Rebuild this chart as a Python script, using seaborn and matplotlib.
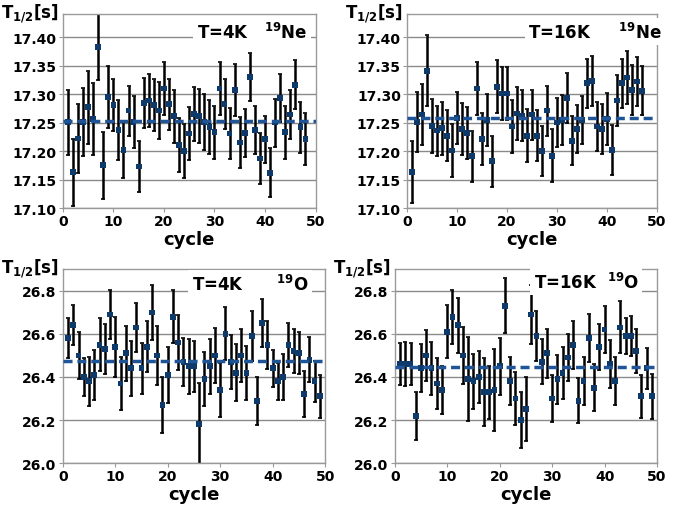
import numpy as np
import matplotlib
matplotlib.use("Agg")
import matplotlib.pyplot as plt
import seaborn as sns

# values
ne4k_val = [17.251, 17.163, 17.222, 17.251, 17.277, 17.256, 17.383, 17.175, 17.295, 17.281,
            17.237, 17.202, 17.271, 17.251, 17.173, 17.285, 17.289, 17.281, 17.271, 17.310,
            17.282, 17.261, 17.211, 17.200, 17.231, 17.265, 17.262, 17.251, 17.242, 17.233,
            17.310, 17.283, 17.231, 17.307, 17.215, 17.232, 17.330, 17.237, 17.187, 17.221,
            17.162, 17.250, 17.293, 17.233, 17.264, 17.316, 17.242, 17.221]
ne4k_err = [0.057, 0.059, 0.060, 0.060, 0.064, 0.063, 0.059, 0.059, 0.054, 0.045,
            0.052, 0.049, 0.044, 0.045, 0.044, 0.044, 0.047, 0.046, 0.050, 0.046,
            0.045, 0.046, 0.047, 0.047, 0.047, 0.047, 0.047, 0.049, 0.047, 0.047,
            0.046, 0.044, 0.045, 0.045, 0.044, 0.042, 0.042, 0.042, 0.044, 0.041,
            0.043, 0.042, 0.042, 0.046, 0.043, 0.043, 0.045, 0.046]
ne16k_val = [17.163, 17.251, 17.264, 17.341, 17.244, 17.236, 17.240, 17.227, 17.201, 17.258,
             17.239, 17.232, 17.191, 17.310, 17.221, 17.255, 17.182, 17.313, 17.301, 17.301,
             17.243, 17.266, 17.262, 17.227, 17.264, 17.227, 17.200, 17.271, 17.192, 17.250,
             17.255, 17.293, 17.218, 17.239, 17.255, 17.319, 17.323, 17.243, 17.239, 17.256,
             17.202, 17.289, 17.319, 17.329, 17.307, 17.322, 17.306]
ne16k_err = [0.054, 0.053, 0.053, 0.062, 0.048, 0.044, 0.046, 0.045, 0.046, 0.045,
             0.045, 0.046, 0.045, 0.046, 0.046, 0.046, 0.045, 0.046, 0.046, 0.046,
             0.046, 0.046, 0.045, 0.046, 0.044, 0.045, 0.044, 0.044, 0.046, 0.043,
             0.044, 0.044, 0.043, 0.042, 0.042, 0.043, 0.044, 0.043, 0.044, 0.046,
             0.044, 0.045, 0.043, 0.047, 0.044, 0.043, 0.043]
o4k_val = [26.58, 26.64, 26.50, 26.40, 26.38, 26.41, 26.55, 26.53, 26.69, 26.54,
           26.37, 26.51, 26.44, 26.63, 26.44, 26.54, 26.70, 26.50, 26.27, 26.41,
           26.68, 26.56, 26.47, 26.45, 26.45, 26.18, 26.39, 26.45, 26.50, 26.34,
           26.60, 26.47, 26.42, 26.50, 26.42, 26.59, 26.29, 26.65, 26.55, 26.44,
           26.38, 26.40, 26.55, 26.52, 26.51, 26.32, 26.48, 26.38, 26.31]
o4k_err = [0.092, 0.092, 0.110, 0.087, 0.114, 0.115, 0.123, 0.118, 0.115, 0.138,
           0.125, 0.127, 0.127, 0.115, 0.119, 0.119, 0.127, 0.135, 0.131, 0.131,
           0.122, 0.127, 0.111, 0.127, 0.119, 0.190, 0.127, 0.127, 0.127, 0.125,
           0.123, 0.127, 0.133, 0.125, 0.125, 0.117, 0.111, 0.111, 0.111, 0.085,
           0.085, 0.108, 0.102, 0.102, 0.098, 0.106, 0.104, 0.094, 0.100]
o16k_val = [26.46, 26.46, 26.46, 26.22, 26.44, 26.50, 26.44, 26.37, 26.34, 26.61,
            26.68, 26.64, 26.50, 26.39, 26.38, 26.40, 26.33, 26.33, 26.34, 26.45,
            26.73, 26.38, 26.30, 26.20, 26.25, 26.69, 26.59, 26.47, 26.51, 26.30,
            26.39, 26.42, 26.49, 26.55, 26.29, 26.38, 26.58, 26.35, 26.54, 26.62,
            26.46, 26.38, 26.63, 26.59, 26.59, 26.52, 26.31, 26.44, 26.31]
o16k_err = [0.096, 0.102, 0.098, 0.111, 0.111, 0.119, 0.123, 0.118, 0.113, 0.122,
            0.125, 0.127, 0.131, 0.196, 0.127, 0.121, 0.157, 0.123, 0.190, 0.132,
            0.128, 0.111, 0.125, 0.132, 0.148, 0.135, 0.116, 0.104, 0.114, 0.110,
            0.114, 0.121, 0.111, 0.111, 0.106, 0.111, 0.111, 0.108, 0.108, 0.108,
            0.111, 0.111, 0.121, 0.085, 0.092, 0.102, 0.100, 0.096, 0.105]
means = [17.252, 17.258, 26.474, 26.447]
labels = ["T=4K", "T=16K", "T=4K", "T=16K"]
nuclides = ["Ne", "Ne", "O", "O"]

ne_ticks = [17.10, 17.15, 17.20, 17.25, 17.30, 17.35, 17.40]
o_ticks = [26.0, 26.2, 26.4, 26.6, 26.8]
x_ticks = [0, 10, 20, 30, 40, 50]

sns.set_theme(style="white")
plt.rcParams["font.family"] = ["DejaVu Sans"]
plt.rcParams["font.weight"] = "bold"
plt.rcParams["mathtext.default"] = "regular"
plt.rcParams["text.color"] = "black"
plt.rcParams["axes.labelcolor"] = "black"

fig = plt.figure(figsize=(6.83, 5.10), dpi=100)
boxes = [[0.092, 0.590, 0.370, 0.380],
         [0.596, 0.590, 0.366, 0.380],
         [0.092, 0.090, 0.384, 0.380],
         [0.578, 0.090, 0.384, 0.380]]
series = [(ne4k_val, ne4k_err), (ne16k_val, ne16k_err),
          (o4k_val, o4k_err), (o16k_val, o16k_err)]
# text start (data x), text height (axes frac), spacing between label and nuclide
text_pos = [(26.5, 0.91, "   "), (24.2, 0.91, "     "), (24.6, 0.925, "      "), (26.5, 0.935, "  ")]

for i, (box, (vals, errs)) in enumerate(zip(boxes, series)):
    ax = fig.add_axes(box)
    cyc = np.arange(1, len(vals) + 1)
    ax.errorbar(cyc, vals, yerr=errs, fmt="none", ecolor="black",
                elinewidth=1.8, capsize=1.5, capthick=1.2, zorder=2)
    sns.scatterplot(x=cyc, y=vals, marker="s", color="#0d3a6b", s=17,
                    edgecolor="none", zorder=3, ax=ax)
    ax.axhline(means[i], color="#1f5597", lw=2.5, ls=(0, (2.6, 1.4)), zorder=4)

    ax.set_xlim(0, 50)
    ax.set_xticks(x_ticks)
    if i < 2:
        ax.set_ylim(17.10, 17.44)
        ax.set_yticks(ne_ticks)
        ax.set_yticklabels([f"{t:.2f}" for t in ne_ticks])
    else:
        ax.set_ylim(26.0, 26.9)
        ax.set_yticks(o_ticks)
        ax.set_yticklabels([f"{t:.1f}" for t in o_ticks])
    ax.yaxis.grid(True, color="#8a8a8a", lw=1.0)
    ax.set_axisbelow(True)
    for sp in ax.spines.values():
        sp.set_color("#9a9a9a")
        sp.set_linewidth(1.0)
    ax.tick_params(axis="both", labelsize=10, length=3, width=0.8,
                   color="#9a9a9a", labelcolor="black", pad=1.5, left=True, bottom=True)
    ax.set_xlabel("cycle", fontsize=13, fontweight="bold", labelpad=1)
    ax.set_ylabel("")
    ax.annotate(r"T$_{1/2}$[s]", xy=(0, 1), xycoords="axes fraction",
                xytext=(-3, 1), textcoords="offset points",
                ha="right", va="center", fontsize=12, fontweight="bold")
    tx, ty, gap = text_pos[i]
    ax.text(tx, ty, labels[i] + gap + r"$^{19}$" + nuclides[i],
            transform=ax.get_xaxis_transform(), ha="left", va="center",
            fontsize=12, fontweight="bold", zorder=5,
            bbox=dict(facecolor="white", edgecolor="none", pad=2.5))

fig.savefig("out.png", dpi=100)
